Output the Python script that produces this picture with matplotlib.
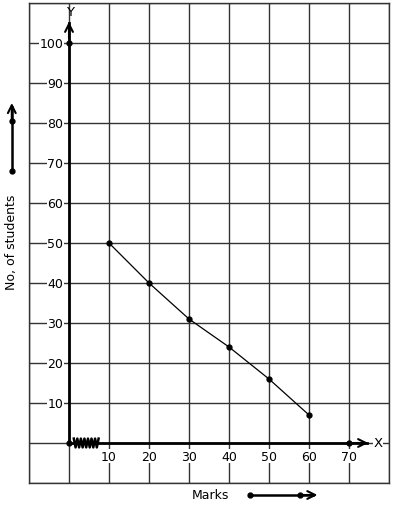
import matplotlib
matplotlib.use("Agg")
import matplotlib.pyplot as plt
import numpy as np

marks = [10, 20, 30, 40, 50, 60]
students = [50, 40, 31, 24, 16, 7]
x_ticks = [10, 20, 30, 40, 50, 60, 70]
y_ticks = [10, 20, 30, 40, 50, 60, 70, 80, 90, 100]

fig = plt.figure(figsize=(3.94, 5.10), dpi=100)
ax = fig.add_axes([29/394, 26/510, 360/394, 480/510])
ax.set_xlim(-10, 80)
ax.set_ylim(-10, 110)
ax.set_xticks(np.arange(-10, 81, 10))
ax.set_yticks(np.arange(-10, 111, 10))
ax.grid(True, color="#333333", lw=1.0)
ax.tick_params(length=0, labelbottom=False, labelleft=False)
for s in ax.spines.values():
    s.set_color("#333333")
    s.set_linewidth(1.0)
ax.set_axisbelow(True)

# axes
ax.plot([0, 0], [0, 105], color="black", lw=2.0, zorder=4)
ax.plot([0, 74.5], [0, 0], color="black", lw=2.0, zorder=4)
ax.annotate("", xy=(0, 106), xytext=(0, 100.5),
            arrowprops=dict(arrowstyle="->", lw=1.5, color="black", mutation_scale=14), zorder=5)
ax.annotate("", xy=(75.5, 0), xytext=(70.5, 0),
            arrowprops=dict(arrowstyle="->", lw=1.5, color="black", mutation_scale=14), zorder=5)
ax.plot([0, 0, 70], [0, 100, 0], "o", color="black", ms=3.5, zorder=6)
ax.text(0.3, 107.8, "Y", ha="center", va="center", fontsize=9.5)
ax.text(77.3, 0, "X", ha="center", va="center", fontsize=9.5,
        bbox=dict(facecolor="white", edgecolor="none", pad=0.5))

# zigzag near origin
zx = np.linspace(1.2, 7.4, 15)
zy = np.array([1, -1] * 7 + [1]) * 1.1
ax.plot(zx, zy, color="black", lw=1.8, zorder=5)

# tick labels
for v in y_ticks:
    ax.text(-1.4, v, str(v), ha="right", va="center", fontsize=9,
            bbox=dict(facecolor="white", edgecolor="none", pad=0.3), zorder=3)
for v in x_ticks:
    ax.text(v, -3.3, str(v), ha="center", va="center", fontsize=9,
            bbox=dict(facecolor="white", edgecolor="none", pad=0.3), zorder=3)

# data
ax.plot(marks, students, color="black", lw=0.9, marker="o", ms=3.5, zorder=6)

# axis titles with arrows
ax.text(-14.3, 50.5, "No, of students", rotation=90, ha="center", va="center",
        fontsize=9, clip_on=False)
ax.plot([-14.3, -14.3], [68, 84], color="black", lw=1.8, clip_on=False)
ax.annotate("", xy=(-14.3, 85.7), xytext=(-14.3, 80),
            arrowprops=dict(arrowstyle="->", lw=1.5, color="black", mutation_scale=14),
            annotation_clip=False)
ax.plot([-14.3, -14.3], [68, 80.5], "o", color="black", ms=3.5, clip_on=False)

ax.text(35.3, -13, "Marks", ha="center", va="center", fontsize=9, clip_on=False)
ax.plot([45.3, 61], [-13, -13], color="black", lw=1.8, clip_on=False)
ax.annotate("", xy=(62.8, -13), xytext=(57, -13),
            arrowprops=dict(arrowstyle="->", lw=1.5, color="black", mutation_scale=14),
            annotation_clip=False)
ax.plot([45.3, 57.8], [-13, -13], "o", color="black", ms=3.5, clip_on=False)

fig.savefig("out.png", dpi=100)
